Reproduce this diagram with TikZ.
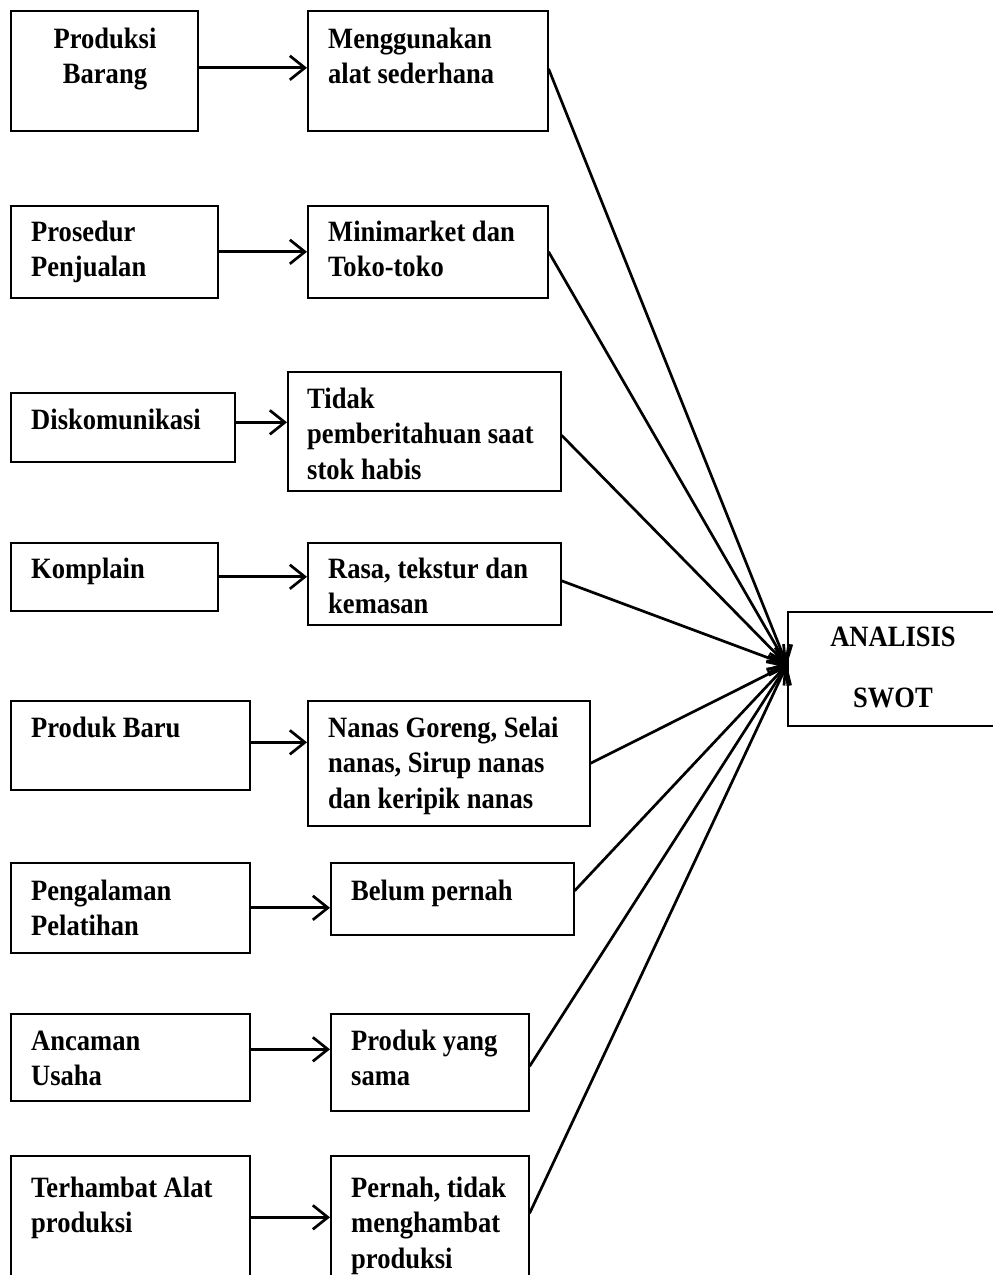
\documentclass[tikz,border=0pt]{standalone}
\usepackage{fontspec}
\setmainfont{Liberation Serif}[FakeStretch=0.9]
\usetikzlibrary{arrows.meta}
\newcommand{\bbox}[5]{\node[box, minimum width={(#4-#2)*1pt}, minimum height={(#5-#3)*1pt}] (#1) at (#2,#3) {};}
\newcommand{\txtfont}{\fontsize{29.5}{35.5}\selectfont\bfseries}
\tikzset{
  box/.style={draw, line width=1.6pt, inner sep=0pt, anchor=north west},
  txt/.style={anchor=north west, inner sep=0pt, align=left, font=\txtfont},
  ctxt/.style={anchor=north, inner sep=0pt, align=center, font=\txtfont},
  conn/.style={line width=2.7pt, -{Straight Barb[length=15pt,width=24pt]}},
}
\begin{document}
\begin{tikzpicture}[x=1pt,y=-1pt]
\useasboundingbox (0,0) rectangle (993,1275);
% boxes
\bbox{l1}{10}{10}{197}{130}
\bbox{r1}{307}{10}{547}{130}
\bbox{l2}{10}{205}{217}{297}
\bbox{r2}{307}{205}{547}{297}
\bbox{l3}{10}{392}{234}{461}
\bbox{r3}{287}{371}{560}{490}
\bbox{l4}{10}{542}{217}{610}
\bbox{r4}{307}{542}{560}{624}
\bbox{l5}{10}{700}{249}{789}
\bbox{r5}{307}{700}{589}{825}
\bbox{l6}{10}{862}{249}{952}
\bbox{r6}{330}{862}{573}{934}
\bbox{l7}{10}{1013}{249}{1100}
\bbox{r7}{330}{1013}{528}{1110}
\bbox{l8}{10}{1155}{249}{1290}
\bbox{r8}{330}{1155}{528}{1290}
\bbox{swot}{787}{611}{1005}{725}
% texts
\node[ctxt] (t1) at (105,23) {\strut Produksi\\Barang};
\node[txt] (u1) at (328,23) {\strut Menggunakan\\alat sederhana};
\node[txt] (t2) at (31,216) {\strut Prosedur\\Penjualan};
\node[txt] (u2) at (328,216) {\strut Minimarket dan\\Toko-toko};
\node[txt] (t3) at (31,404) {\strut Diskomunikasi};
\node[txt] (u3) at (307,383) {\strut Tidak\\pemberitahuan saat\\stok habis};
\node[txt] (t4) at (31,553) {\strut Komplain};
\node[txt] (u4) at (328,553) {\strut Rasa, tekstur dan\\kemasan};
\node[txt] (t5) at (31,712) {\strut Produk Baru};
\node[txt] (u5) at (328,712) {\strut Nanas Goreng, Selai\\nanas, Sirup nanas\\dan keripik nanas};
\node[txt] (t6) at (31,875) {\strut Pengalaman\\Pelatihan};
\node[txt] (u6) at (351,875) {\strut Belum pernah};
\node[txt] (t7) at (31,1025) {\strut Ancaman\\Usaha};
\node[txt] (u7) at (351,1025) {\strut Produk yang\\sama};
\node[txt] (t8) at (31,1172) {\strut Terhambat Alat\\produksi};
\node[txt] (u8) at (351,1172) {\strut Pernah, tidak\\menghambat\\produksi};
\node[ctxt, font=\fontsize{29.5}{61}\selectfont\bfseries] (ts) at (893,604) {\strut ANALISIS\\SWOT};
% horizontal arrows
\draw[conn] ([yshift=3pt]l1.east) -- ([yshift=3pt]l1.east -| r1.west);
\draw[conn] (l2.east) -- (l2.east -| r2.west);
\draw[conn] ([yshift=5pt]l3.east) -- ([yshift=5pt]l3.east -| r3.west);
\draw[conn] (l4.east) -- (l4.east -| r4.west);
\draw[conn] ([yshift=3pt]l5.east) -- ([yshift=3pt]l5.east -| r5.west);
\draw[conn] (l6.east) -- (l6.east -| r6.west);
\draw[conn] ([yshift=8pt]l7.east) -- ([yshift=8pt]l7.east -| r7.west);
\draw[conn] ([yshift=6pt]l8.east) -- ([yshift=6pt]l8.east -| r8.west);
% diagonal arrows to SWOT
\foreach \n/\s in {r1/2, r2/0, r3/-4, r4/3, r5/0, r6/8, r7/-4, r8/10}
  \draw[conn] ([yshift=\s pt]\n.east) -- ([yshift=4pt]swot.west);
\end{tikzpicture}
\end{document}
